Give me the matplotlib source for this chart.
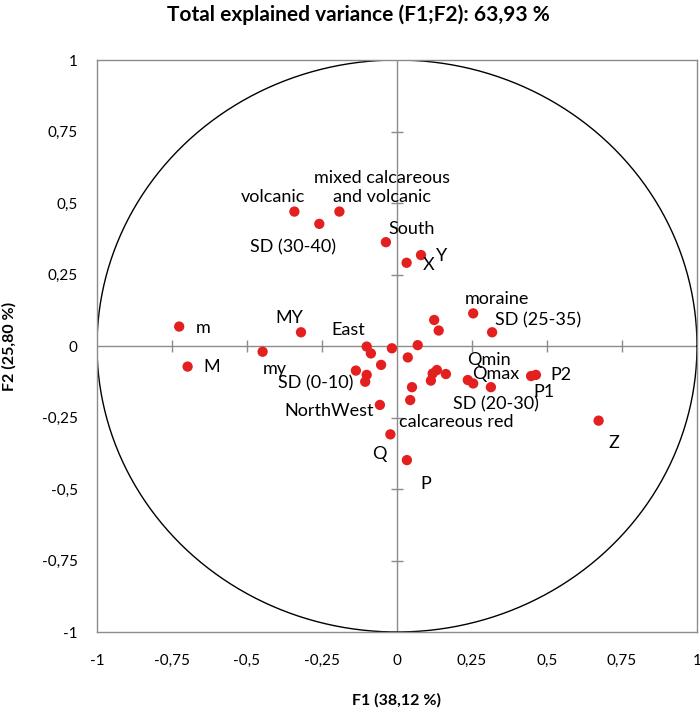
import numpy as np
import matplotlib
matplotlib.use("Agg")
import matplotlib.pyplot as plt

# PCA variable coordinates (F1, F2)
f1 = [-0.342, -0.192, -0.259, -0.037, 0.032, 0.080, -0.726, -0.320, -0.698, -0.448,
      0.124, 0.139, 0.254, 0.317, -0.101, -0.087, -0.017, 0.069, 0.036, -0.053,
      -0.137, -0.101, -0.106, 0.119, 0.133, 0.163, 0.113, 0.236, 0.254, 0.313,
      0.447, 0.463, 0.050, 0.044, -0.057, -0.022, 0.033, 0.672]
f2 = [0.470, 0.470, 0.427, 0.363, 0.291, 0.318, 0.068, 0.048, -0.072, -0.020,
      0.091, 0.054, 0.114, 0.048, -0.002, -0.026, -0.008, 0.003, -0.040, -0.066,
      -0.086, -0.101, -0.125, -0.096, -0.084, -0.098, -0.121, -0.119, -0.131, -0.144,
      -0.105, -0.101, -0.144, -0.189, -0.206, -0.309, -0.399, -0.261]
labels = ["volcanic", "mixed calcareous\nand volcanic", "SD (30-40)", "South", "X", "Y",
          "m", "MY", "M", "my",
          "", "", "moraine", "SD (25-35)", "East", "", "", "", "", "",
          "", "", "SD (0-10)", "", "", "", "", "Qmin", "Qmax", "SD (20-30)",
          "P1", "P2", "", "calcareous red", "NorthWest", "Q", "P", "Z"]

ticks = [-1, -0.75, -0.5, -0.25, 0, 0.25, 0.5, 0.75, 1]
tick_labels = ["-1", "-0,75", "-0,5", "-0,25", "0", "0,25", "0,5", "0,75", "1"]

title = "Total explained variance (F1;F2): 63,93 %"
xlabel = "F1 (38,12 %)"
ylabel = "F2 (25,80 %)"

# label offsets from their point, in pixels (x right, y up)
offsets = {
    "volcanic": (-21, 15), "mixed calcareous\nand volcanic": (43, 24),
    "SD (30-40)": (-26, -23), "South": (26, 13), "X": (22, -2), "Y": (21, -1),
    "m": (24, -1), "MY": (-12, 14), "East": (-18, 17), "M": (24, 0),
    "my": (12, -17), "SD (0-10)": (-50, -2), "NorthWest": (-51, -6),
    "moraine": (24, 14), "SD (25-35)": (46, 12), "Qmin": (21, 20),
    "Qmax": (23, 9), "P2": (25, 0), "P1": (13, -16), "SD (20-30)": (5, -17),
    "calcareous red": (46, -22), "Z": (15, -22), "Q": (-11, -20), "P": (19, -24),
}

plt.rcParams["font.family"] = ["Lato", "DejaVu Sans"]

fig = plt.figure(figsize=(7, 7.1), dpi=100)
ax = fig.add_axes([97 / 700, 78 / 710, 600 / 700, 572 / 710])

grey = "#8c8c8c"
for s in ax.spines.values():
    s.set_color(grey)
    s.set_linewidth(1.0)

# unit circle
t = np.linspace(0, 2 * np.pi, 400)
ax.plot(np.cos(t), np.sin(t), color="black", lw=1.0, zorder=2)

# zero axes with small cross ticks
ax.axhline(0, color=grey, lw=1.0, zorder=1)
ax.axvline(0, color=grey, lw=1.0, zorder=1)
inner = [v for v in ticks if abs(v) not in (0, 1)]
ax.plot(inner, [0] * len(inner), ls="none", marker="|", ms=9, mew=1.0, color=grey, zorder=1)
ax.plot([0] * len(inner), inner, ls="none", marker="_", ms=9, mew=1.0, color=grey, zorder=1)

ax.scatter(f1, f2, s=55, color="#e3201f", edgecolors="none", zorder=3)

for x, y, lab in zip(f1, f2, labels):
    if not lab:
        continue
    ax.annotate(lab, (x, y), xytext=offsets[lab], textcoords="offset pixels",
                ha="center", va="center", fontsize=13, linespacing=1.2, zorder=4)

ax.set_xlim(-1, 1)
ax.set_ylim(-1, 1)
ax.set_xticks(ticks)
ax.set_xticklabels(tick_labels)
ax.set_yticks(ticks)
ax.set_yticklabels(tick_labels)
ax.tick_params(length=0, labelsize=11)
ax.tick_params(axis="x", pad=16)
ax.tick_params(axis="y", pad=14)

fig.text(358 / 700, 1 - 15 / 710, title, fontsize=15, fontweight="bold",
         ha="center", va="center")
ax.set_xlabel(xlabel, fontsize=11.5, fontweight="bold", labelpad=18)
ax.set_ylabel(ylabel, fontsize=11.5, fontweight="bold", labelpad=18)

fig.savefig("out.png", dpi=100)
